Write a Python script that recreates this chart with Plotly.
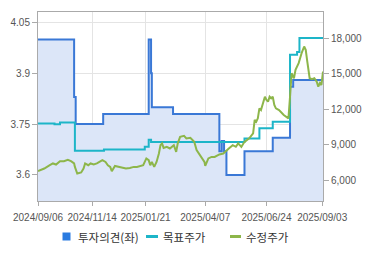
import plotly.graph_objects as go

# 투자의견 (left axis) - step series
opinion_dates = ["2024-09-06", "2024-10-22", "2024-10-24", "2024-11-28", "2025-01-25",
                 "2025-01-28", "2025-01-29", "2025-02-25", "2025-04-25", "2025-04-28",
                 "2025-05-01", "2025-05-04", "2025-05-27", "2025-07-02", "2025-07-24",
                 "2025-07-28", "2025-09-04"]
opinion_vals = [4.0, 3.83, 3.75, 3.78, 4.0, 3.9, 3.8, 3.78, 3.67, 3.70,
                3.67, 3.6, 3.67, 3.71, 3.86, 3.88, 3.88]

# 목표주가 (right axis) - step series
target_dates = ["2024-09-06", "2024-09-27", "2024-10-04", "2024-10-23", "2024-11-29",
                "2025-01-20", "2025-01-25", "2025-01-28", "2025-05-27", "2025-06-15",
                "2025-07-02", "2025-07-24", "2025-08-02", "2025-08-05", "2025-09-04"]
target_vals = [10800, 10750, 10880, 8500, 8620, 8840, 9430, 9240, 9550, 10400,
               10950, 16600, 16820, 18000, 18000]

# 수정주가 (right axis)
price_dates = ["2024-09-06", "2024-09-14", "2024-09-21", "2024-09-25", "2024-09-29",
               "2024-10-04", "2024-10-09", "2024-10-14", "2024-10-18", "2024-10-22",
               "2024-10-23", "2024-10-26", "2024-10-31", "2024-11-03", "2024-11-05",
               "2024-11-09", "2024-11-12", "2024-11-16", "2024-11-20", "2024-11-23",
               "2024-11-27", "2024-12-01", "2024-12-04", "2024-12-07", "2024-12-09",
               "2024-12-13", "2024-12-18", "2024-12-22", "2024-12-27", "2025-01-01",
               "2025-01-06", "2025-01-10", "2025-01-18", "2025-01-22", "2025-01-25",
               "2025-01-27", "2025-01-29", "2025-02-01", "2025-02-04", "2025-02-07",
               "2025-02-09", "2025-02-11", "2025-02-13", "2025-02-17", "2025-02-21",
               "2025-02-26", "2025-03-01", "2025-03-03", "2025-03-06", "2025-03-11",
               "2025-03-14", "2025-03-19", "2025-03-24", "2025-03-27", "2025-03-29",
               "2025-04-02", "2025-04-06", "2025-04-07", "2025-04-11", "2025-04-15",
               "2025-04-19", "2025-04-25", "2025-04-30", "2025-05-07", "2025-05-12",
               "2025-05-16", "2025-05-19", "2025-05-23", "2025-05-27", "2025-06-02",
               "2025-06-07", "2025-06-09", "2025-06-11", "2025-06-13", "2025-06-15",
               "2025-06-17", "2025-06-20", "2025-06-22", "2025-06-24", "2025-06-26",
               "2025-06-28", "2025-06-30", "2025-07-02", "2025-07-04", "2025-07-06",
               "2025-07-10", "2025-07-16", "2025-07-20", "2025-07-22", "2025-07-24",
               "2025-07-25", "2025-07-26", "2025-07-29", "2025-07-31", "2025-08-04",
               "2025-08-06", "2025-08-08", "2025-08-11", "2025-08-13", "2025-08-15",
               "2025-08-16", "2025-08-18", "2025-08-21", "2025-08-24", "2025-08-27",
               "2025-08-29", "2025-08-31", "2025-09-02", "2025-09-04"]
price_vals = [6790, 7010, 7290, 7440, 7350,
              7630, 7630, 7740, 7630, 7440,
              7150, 6590, 6680, 7010, 7440,
              7290, 7440, 7350, 7440, 7570,
              7720, 7570, 7290, 7150, 6790,
              7230, 7150, 7060, 7010, 7060,
              7150, 7150, 7290, 7860, 7720,
              7290, 7570, 7150, 7570, 8280,
              8980, 9130, 8750, 8840, 8700,
              8980, 8420, 9130, 9680, 9770,
              9550, 9600, 9260, 8560, 8370,
              7990, 7570, 7230, 7860, 7990,
              7990, 8200, 8280, 8700, 8980,
              8840, 9130, 8840, 9260, 9550,
              9970, 11100, 10950, 11240, 12080,
              11940, 12640, 13060, 12790, 12640,
              13060, 12930, 13060, 12360, 12080,
              11940, 11520, 11370, 11240, 13060,
              14750, 15040, 14620, 15320, 15890,
              16440, 16780, 17290, 17010, 16020,
              15600, 14620, 14530, 14620, 14330,
              13910, 14200, 14050, 15180]

x_ticks = ["2024-09-06", "2024-11-14", "2025-01-21", "2025-04-07", "2025-06-24", "2025-09-03"]
x_ticktext = ["2024/09/06", "2024/11/14", "2025/01/21", "2025/04/07", "2025/06/24", "2025/09/03"]
y1_ticks = [3.6, 3.75, 3.9, 4.05]
y1_ticktext = ["3.6", "3.75", "3.9", "4.05"]
y2_ticks = [6000, 9000, 12000, 15000, 18000]
y2_ticktext = ["6,000", "9,000", "12,000", "15,000", "18,000"]
legend_names = ["투자의견(좌)", "목표주가", "수정주가"]

BLUE = "#3a78d6"
CYAN = "#1db5c8"
GREEN = "#8db64a"
FONT = "Noto Sans CJK KR"

W, H = 370, 255
ML, MR, MT, MB = 38, 47, 12, 54
PW, PH = W - ML - MR, H - MT - MB


def px(xp):
    return (xp - ML) / PW


def py(yp):
    return (H - MB - yp) / PH


fig = go.Figure()
fig.add_trace(go.Scatter(
    x=opinion_dates, y=opinion_vals, mode="lines", name=legend_names[0],
    line=dict(color=BLUE, width=2, shape="hv"),
    fill="tozeroy", fillcolor="#dce6f8", yaxis="y"))
fig.add_trace(go.Scatter(
    x=target_dates, y=target_vals, mode="lines", name=legend_names[1],
    line=dict(color=CYAN, width=2, shape="hv"), yaxis="y2"))
fig.add_trace(go.Scatter(
    x=price_dates, y=price_vals, mode="lines", name=legend_names[2],
    line=dict(color=GREEN, width=2), yaxis="y2"))

# manual legend (symbols + labels) below the plot
leg_y = 236.5
shapes = [
    dict(type="rect", xref="paper", yref="paper", x0=px(62.5), x1=px(70.5),
         y0=py(240.5), y1=py(232.5), fillcolor="#2a7be0", line=dict(width=0)),
    dict(type="line", xref="paper", yref="paper", x0=px(146), x1=px(158),
         y0=py(leg_y), y1=py(leg_y), line=dict(color=CYAN, width=3)),
    dict(type="line", xref="paper", yref="paper", x0=px(230), x1=px(241),
         y0=py(leg_y), y1=py(leg_y), line=dict(color=GREEN, width=3)),
]
annotations = [
    dict(text=legend_names[0], x=px(75.5), y=py(leg_y)),
    dict(text=legend_names[1], x=px(161), y=py(leg_y)),
    dict(text=legend_names[2], x=px(243.5), y=py(leg_y)),
]
for a in annotations:
    a.update(xref="paper", yref="paper", xanchor="left", yanchor="middle",
             showarrow=False, font=dict(family=FONT, size=11.5, color="#333333"))

axis_font = dict(family="Liberation Sans", size=10, color="#555555")
fig.update_layout(
    width=W, height=H,
    margin=dict(l=ML, r=MR, t=MT, b=MB),
    paper_bgcolor="white", plot_bgcolor="white",
    font=dict(family=FONT, color="#444444"),
    showlegend=False,
    shapes=shapes, annotations=annotations,
    xaxis=dict(type="date", range=["2024-09-06", "2025-09-04"],
               tickvals=x_ticks, ticktext=x_ticktext, tickfont=axis_font, tickangle=0,
               ticklabelstandoff=3,
               showgrid=True, gridcolor="#e4e4e4", gridwidth=1, automargin=False,
               showline=True, linecolor="#aaaaaa", linewidth=1, mirror=True,
               ticks="outside", ticklen=4, tickcolor="#aaaaaa", zeroline=False),
    yaxis=dict(range=[3.523, 4.081], tickvals=y1_ticks, ticktext=y1_ticktext,
               tickfont=axis_font, showgrid=True, gridcolor="#e4e4e4", automargin=False,
               showline=True, linecolor="#aaaaaa", linewidth=1,
               ticks="outside", ticklen=5, tickcolor="#aaaaaa", zeroline=False),
    yaxis2=dict(range=[4276, 20197], overlaying="y", side="right",
                tickvals=y2_ticks, ticktext=y2_ticktext, tickfont=axis_font,
                showgrid=False, showline=True, linecolor="#aaaaaa", linewidth=1,
                automargin=False,
                ticks="outside", ticklen=5, tickcolor="#aaaaaa", zeroline=False),
)

fig.write_html("out.html")
